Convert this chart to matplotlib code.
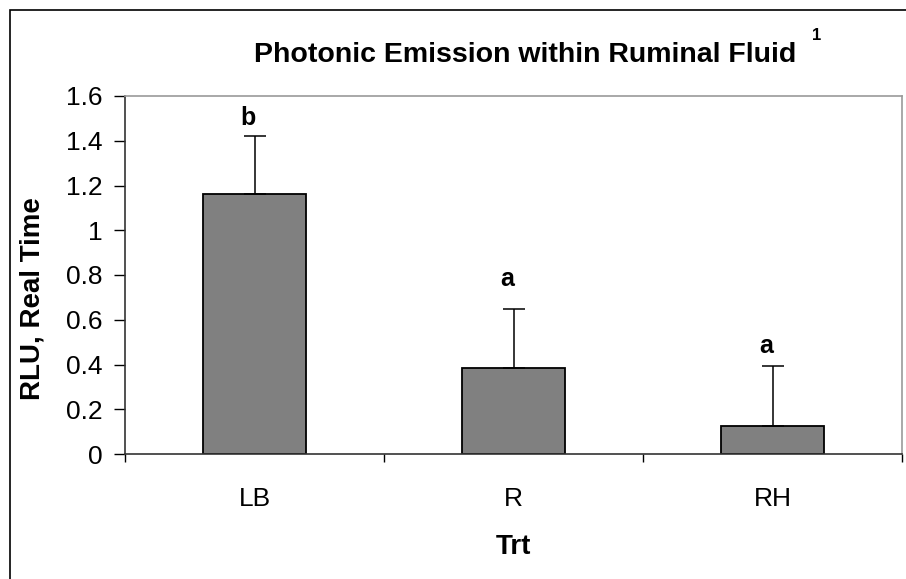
import matplotlib
matplotlib.use('Agg')
import matplotlib.pyplot as plt
from matplotlib.patches import Rectangle

# treatment means, SE and letters
trt = ['LB', 'R', 'RH']
rlu = [1.16, 0.385, 0.125]
se = [0.26, 0.265, 0.268]
letters = ['b', 'a', 'a']
letter_y = [1.47, 0.75, 0.45]  # baseline of each letter, in RLU

plt.rcParams['font.family'] = ['Liberation Sans', 'DejaVu Sans']

fig = plt.figure(figsize=(9.06, 5.79), dpi=100)
fig.patch.set_facecolor('white')
# chart area border (runs off the right and bottom of the picture)
fig.patches.append(Rectangle((10/906, -0.1), 1.2, 1 - 10/579 + 0.1,
                             transform=fig.transFigure, fill=False,
                             edgecolor='black', linewidth=1.2, clip_on=False))

ax = fig.add_axes([125/906, (579-454)/579, (902-125)/906, (454-96)/579])
x = range(len(trt))
ax.bar(x, rlu, width=0.4, color='#808080', edgecolor='black', linewidth=1.3, zorder=2)
ax.errorbar(x, rlu, yerr=[[0]*len(se), se], fmt='none', ecolor='black',
            elinewidth=1.1, capsize=8, capthick=1.1, zorder=3)
for i in x:
    ax.text(i - 0.025, letter_y[i], letters[i], ha='center', va='baseline',
            fontsize=18, fontweight='bold')

ax.set_xlim(-0.5, 2.5)
ax.set_ylim(0, 1.6)
ax.set_yticks([0, 0.2, 0.4, 0.6, 0.8, 1.0, 1.2, 1.4, 1.6])
ax.set_yticklabels(['0', '0.2', '0.4', '0.6', '0.8', '1', '1.2', '1.4', '1.6'])
ax.set_xticks([-0.5, 0.5, 1.5, 2.5])
ax.set_xticklabels([])
ax.set_xticks(list(x), minor=True)
ax.set_xticklabels(trt, minor=True)
ax.tick_params(axis='x', which='minor', length=0, pad=24, labelsize=19)
ax.tick_params(axis='x', which='major', direction='out', length=6, width=1)
ax.tick_params(axis='y', direction='out', length=8, width=1, pad=8, labelsize=19)

for s in ['left', 'bottom']:
    ax.spines[s].set_color('#333333')
    ax.spines[s].set_linewidth(1.2)
for s in ['top', 'right']:
    ax.spines[s].set_color('#9a9a9a')
    ax.spines[s].set_linewidth(1.2)

ax.set_xlabel('Trt', fontsize=20, fontweight='bold', labelpad=16)
fig.text(33/906, 1 - 299/579, 'RLU, Real Time', rotation=90, ha='center', va='center',
         fontsize=20, fontweight='bold')

fig.text(525/906, 1 - 55/579, 'Photonic Emission within Ruminal Fluid',
         ha='center', va='center', fontsize=20.5, fontweight='bold')
fig.text(817/906, 1 - 36/579, '1', ha='center', va='center', fontsize=12, fontweight='bold')

fig.savefig('out.png', dpi=100)
